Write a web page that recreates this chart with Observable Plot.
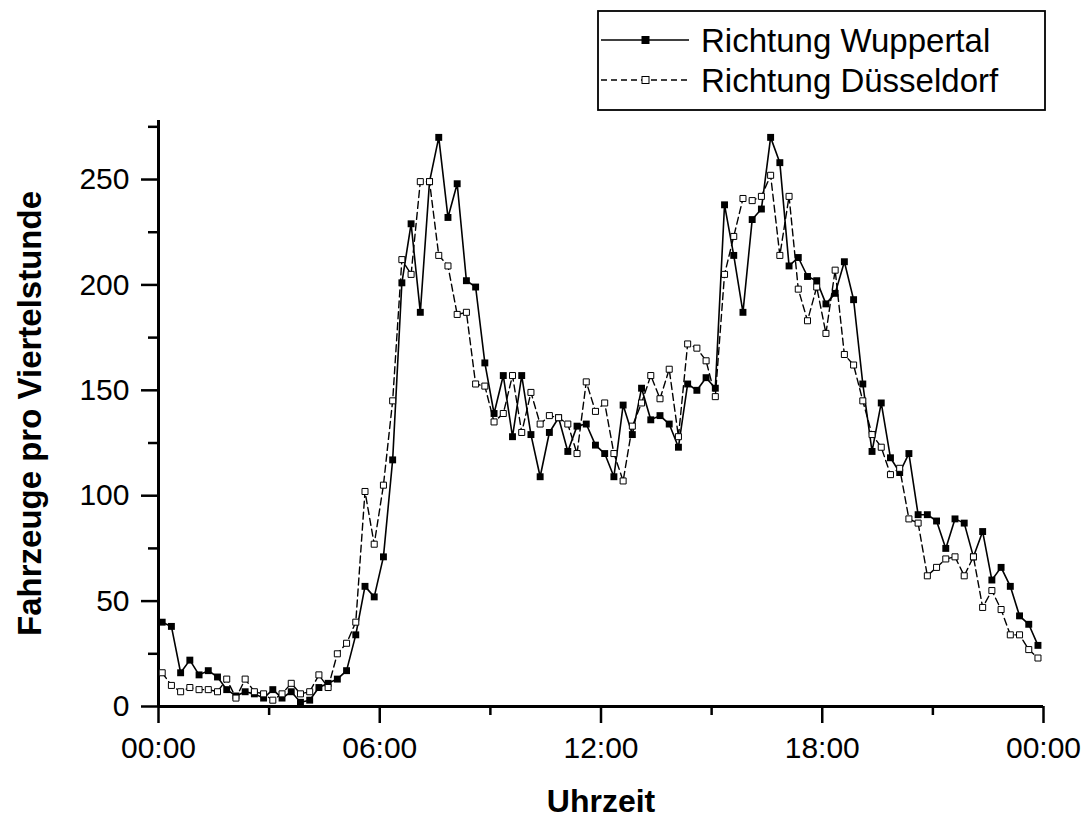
<!DOCTYPE html>
<html>
<head>
<meta charset="utf-8">
<script src="https://cdn.jsdelivr.net/npm/d3@7"></script>
<script src="https://cdn.jsdelivr.net/npm/@observablehq/plot@0.6"></script>
<style>
  html, body { margin: 0; padding: 0; background: #fff; }
  #wrap { position: relative; width: 1085px; height: 822px; font-family: "Liberation Sans", Arial, sans-serif; }
  #legend { position: absolute; left: 597px; top: 10px; }
</style>
</head>
<body>
<div id="wrap"></div>
<script>
// Series values: vehicles per quarter hour, 96 slots from 00:00 to 23:45
const wuppertal = [40,38,16,22,15,17,14,8,5,7,6,4,8,4,7,2,3,9,11,13,17,34,57,52,71,117,201,229,187,249,270,232,248,202,199,163,139,157,128,157,129,109,130,137,121,133,134,124,120,109,143,129,151,136,138,134,123,153,150,156,151,238,214,187,231,236,270,258,209,213,204,202,191,196,211,193,153,121,144,118,111,120,91,91,88,75,89,87,71,83,60,66,57,43,39,29];
const duesseldorf = [16,10,7,9,8,8,7,13,4,13,7,6,3,6,11,6,7,15,9,25,30,40,102,77,105,145,212,205,249,249,214,209,186,187,153,152,135,139,157,130,149,134,138,137,134,120,154,140,144,120,107,133,144,157,146,160,128,172,170,164,147,205,223,241,240,242,252,214,242,198,183,199,177,207,167,162,145,129,123,110,113,89,87,62,66,70,71,62,71,47,55,46,34,34,27,23];
const seriesNames = ["Richtung Wuppertal", "Richtung Düsseldorf"];
const xTicks = [0, 6, 12, 18, 24];
const xMinorTicks = [3, 9, 15, 21];
const yTicks = [0, 50, 100, 150, 200, 250];
const yMinorTicks = [25, 75, 125, 175, 225, 275];
const xLabel = "Uhrzeit";
const yLabel = "Fahrzeuge pro Viertelstunde";

const slotHour = i => i * 0.25 + 0.1; // quarter-hour slot index -> hour of day
const W = wuppertal.map((v, i) => ({t: slotHour(i), v}));
const D = duesseldorf.map((v, i) => ({t: slotHour(i), v}));
const fmt = d => String(d % 24).padStart(2, "0") + ":00";

const chart = Plot.plot({
  width: 1085,
  height: 822,
  marginLeft: 158,
  marginRight: 42,
  marginTop: 120,
  marginBottom: 116,
  style: {fontFamily: '"Liberation Sans", Arial, sans-serif', background: "#fff", color: "#000"},
  x: {type: "linear", domain: [0, 24]},
  y: {domain: [0, 278]},
  marks: [
    Plot.axisX({ticks: xTicks, tickSize: 17, tickPadding: 13, tickFormat: fmt, fontSize: 30, strokeWidth: 2.5, label: null}),
    Plot.axisX({ticks: xMinorTicks, tickSize: 9, tickFormat: () => "", strokeWidth: 2.5, label: null}),
    Plot.axisY({ticks: yTicks, tickSize: 17, tickPadding: 12, fontSize: 30, strokeWidth: 2.5, label: null}),
    Plot.axisY({ticks: yMinorTicks, tickSize: 10, tickFormat: () => "", strokeWidth: 2.5, label: null}),
    Plot.ruleY([0], {strokeWidth: 3}),
    Plot.ruleX([0], {strokeWidth: 3}),
    Plot.line(W, {x: "t", y: "v", stroke: "#000", strokeWidth: 1.6}),
    Plot.dot(W, {x: "t", y: "v", symbol: "square", r: 3.9, fill: "#000", stroke: "none"}),
    Plot.line(D, {x: "t", y: "v", stroke: "#000", strokeWidth: 1.4, strokeDasharray: "7,4"}),
    Plot.dot(D, {x: "t", y: "v", symbol: "square", r: 3.4, fill: "#fff", stroke: "#000", strokeWidth: 1}),
    Plot.text([xLabel], {frameAnchor: "bottom", dy: 105, textAnchor: "middle", fontSize: 32, fontWeight: "bold", fill: "#000"}),
    Plot.text([yLabel], {frameAnchor: "left", dx: -128, rotate: -90, textAnchor: "middle", fontSize: 33, fontWeight: "bold", fill: "#000"})
  ]
});
document.getElementById("wrap").appendChild(chart);

// Legend overlay
const lg = d3.select("#wrap").append("svg")
  .attr("id", "legend").attr("width", 450).attr("height", 102)
  .style("font-family", '"Liberation Sans", Arial, sans-serif');
lg.append("rect").attr("x", 1).attr("y", 1).attr("width", 447).attr("height", 99)
  .attr("fill", "#fff").attr("stroke", "#000").attr("stroke-width", 1.8);
const rows = [
  {name: seriesNames[0], dash: null, fill: "#000", cy: 30},
  {name: seriesNames[1], dash: "6,4", fill: "#fff", cy: 70}
];
rows.forEach(r => {
  lg.append("line").attr("x1", 4).attr("x2", 92).attr("y1", r.cy).attr("y2", r.cy)
    .attr("stroke", "#000").attr("stroke-width", 1.4).attr("stroke-dasharray", r.dash);
  lg.append("rect").attr("x", 45).attr("y", r.cy - 3.5).attr("width", 7).attr("height", 7)
    .attr("fill", r.fill).attr("stroke", "#000").attr("stroke-width", 1);
  lg.append("text").attr("x", 104).attr("y", r.cy + 12).attr("font-size", 33).attr("fill", "#000").text(r.name);
});
</script>
</body>
</html>
